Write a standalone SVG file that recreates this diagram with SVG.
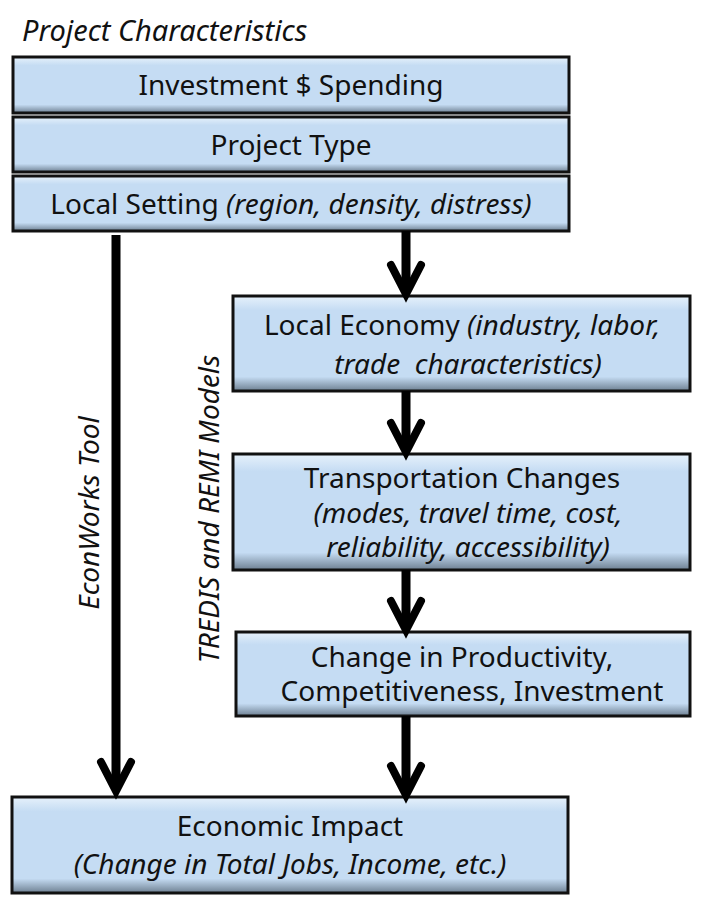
<svg xmlns="http://www.w3.org/2000/svg" width="710" height="906" viewBox="0 0 710 906">
<style>
.b{fill:#c5dcf3;stroke:#111;stroke-width:3}
.t{font-family:"Noto Sans",sans-serif;font-size:28px;fill:#111;text-anchor:middle}
.i{font-style:italic}
.c{stroke:#000;stroke-width:9;fill:none}
.h{stroke:#000;stroke-width:8;fill:none;stroke-linecap:round}
</style>
<defs>
<linearGradient id="g" x1="0" y1="0" x2="0" y2="1">
<stop offset="0" stop-color="#e6f1fb"/><stop offset="0.15" stop-color="#c5dcf3"/><stop offset="0.85" stop-color="#c5dcf3"/><stop offset="1" stop-color="#6d7f91"/>
</linearGradient>
</defs>
<rect width="710" height="906" fill="#fff"/>
<text x="22" y="41" class="t i" style="text-anchor:start;font-size:29px">Project Characteristics</text>
<g id="n1"><rect class="b" x="13" y="57" width="556" height="56" style="fill:url(#g)"/><text class="t" x="291" y="95">Investment $ Spending</text></g>
<g id="n2"><rect class="b" x="13" y="117" width="556" height="55" style="fill:url(#g)"/><text class="t" x="291" y="155">Project Type</text></g>
<g id="n3"><rect class="b" x="13" y="176" width="556" height="55" style="fill:url(#g)"/><text class="t" x="291" y="214">Local Setting <tspan class="i">(region, density, distress)</tspan></text></g>
<g id="n4"><rect class="b" x="233" y="296" width="457" height="95" style="fill:url(#g)"/><text class="t" x="462" y="335">Local Economy <tspan class="i">(industry, labor,</tspan></text><text class="t i" x="468" y="374">trade&#160; characteristics)</text></g>
<g id="n5"><rect class="b" x="233" y="454" width="457" height="116" style="fill:url(#g)"/><text class="t" x="462" y="488">Transportation Changes</text><text class="t i" x="468" y="523">(modes, travel time, cost,</text><text class="t i" x="468" y="557">reliability, accessibility)</text></g>
<g id="n6"><rect class="b" x="236" y="632" width="454" height="84" style="fill:url(#g)"/><text class="t" x="462" y="667">Change in Productivity,</text><text class="t" x="472" y="701">Competitiveness, Investment</text></g>
<g id="n7"><rect class="b" x="12" y="797" width="556" height="96" style="fill:url(#g)"/><text class="t" x="290" y="836">Economic Impact</text><text class="t i" x="290" y="874">(Change in Total Jobs, Income, etc.)</text></g>
<text class="t i" transform="translate(99,513) rotate(-90)">EconWorks Tool</text>
<text class="t i" transform="translate(219,509) rotate(-90)">TREDIS and REMI Models</text>
<g id="connectors">
<line class="c" x1="116" y1="235" x2="116" y2="790"/><path class="h" d="M101 762 L116 791 L131 762"/>
<line class="c" x1="406" y1="231" x2="406" y2="293"/><path class="h" d="M391 265 L406 294 L421 265"/>
<line class="c" x1="406" y1="391" x2="406" y2="451"/><path class="h" d="M391 423 L406 452 L421 423"/>
<line class="c" x1="406" y1="570" x2="406" y2="629"/><path class="h" d="M391 601 L406 630 L421 601"/>
<line class="c" x1="406" y1="716" x2="406" y2="794"/><path class="h" d="M391 766 L406 795 L421 766"/>
</g>
</svg>
